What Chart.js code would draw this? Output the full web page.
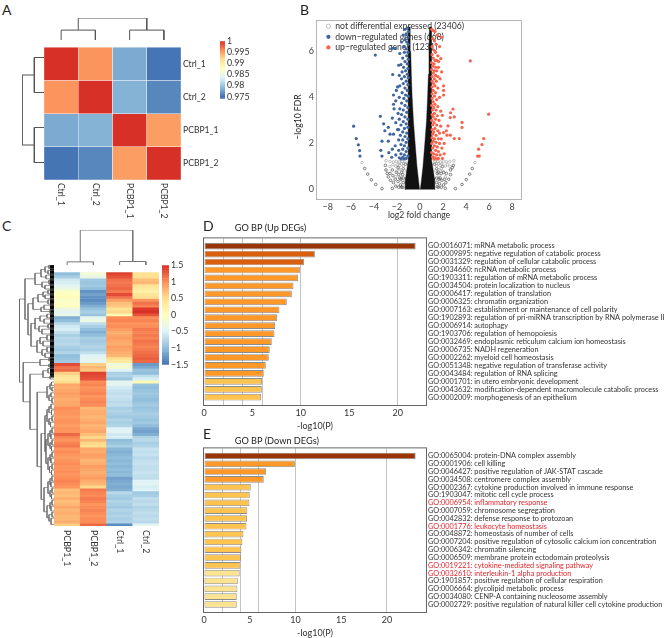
<!DOCTYPE html>
<html>
<head>
<meta charset="utf-8">
<script src="https://cdn.jsdelivr.net/npm/chart.js@4"></script>
<style>
  html, body { margin: 0; padding: 0; background: #fff; }
  #page { position: relative; width: 669px; height: 638px; overflow: hidden; font-family: Lato, sans-serif; color: #222; }
  canvas { position: absolute; }
  .note { position: absolute; white-space: nowrap; transform: translateY(-50%); }
</style>
</head>
<body>
<div id="page"></div>
<script>
// panel A: sample correlation
const corrSamples = ['Ctrl_1', 'Ctrl_2', 'PCBP1_1', 'PCBP1_2']
const corrCtrl1 = [1, 0.9955, 0.978, 0.975]
const corrCtrl2 = [0.9955, 1, 0.9785, 0.976]
const corrPcbp1 = [0.978, 0.9785, 1, 0.995]
const corrPcbp2 = [0.975, 0.976, 0.995, 1]
const corrTicks = [1, 0.995, 0.99, 0.985, 0.98, 0.975]
// dendrogram merges: position a, height a, position b, height b, merge height
const corrTreeTop = [[0.5, 0, 1.5, 0, 0.45], [2.5, 0, 3.5, 0, 0.45], [1, 0.45, 3, 0.45, 1]]
const corrTreeLeft = [[0.5, 0, 1.5, 0, 0.44], [2.5, 0, 3.5, 0, 0.44], [1, 0.44, 3, 0.44, 1]]

// panel B: volcano
const volcanoLegend = ['not differential expressed (23406)', 'down\u2212regulated genes (668)', 'up\u2212regulated genes (1231)']
const upGenes = [[4.37, 5.58], [5.96, 3.27], [3.65, 2.91], [3.65, 2.69], [2.86, 3.49], [2.66, 3.33], [2.98, 3.15], [2.63, 3.12], [1.94, 3.22], [2.43, 2.76], [2.29, 2.55], [2.05, 2.47], [2.34, 2.36], [2.63, 2.36], [2.98, 2.21], [3.41, 2.21], [5.53, 2.21], [5.38, 1.95], [5.09, 1.75], [5.0, 1.45], [5.15, 1.45],
  [1.02, 6.95], [1.15, 6.9], [1.3, 6.85], [1.5, 6.7], [1.85, 6.6], [1.1, 6.55], [1.25, 6.45], [1.4, 6.3], [1.05, 6.2], [1.7, 6.2], [1.2, 6.05], [1.35, 5.95], [1.05, 5.85], [1.55, 5.8], [1.8, 5.68], [1.15, 5.7], [1.3, 5.6], [1.45, 5.6], [1.62, 5.55], [1.0, 5.5], [1.22, 5.45], [1.1, 5.35], [1.35, 5.3], [1.6, 5.3], [1.02, 5.2], [1.25, 5.15], [1.45, 5.15], [1.88, 5.1], [1.15, 5.05], [1.35, 4.95], [1.05, 4.9], [1.55, 4.9], [1.25, 4.8], [1.75, 4.8], [1.05, 4.7], [1.42, 4.7], [1.18, 4.6], [1.3, 4.5], [2.05, 4.5], [1.05, 4.45], [1.55, 4.4], [2.05, 4.3], [1.15, 4.3], [1.35, 4.2], [1.05, 4.15], [2.05, 4.1], [1.25, 4.05], [1.7, 4.0], [1.05, 3.95], [1.45, 3.9], [1.15, 3.8], [1.3, 3.7], [1.02, 3.65], [1.55, 3.6], [1.2, 3.55], [1.08, 3.45], [1.4, 3.45], [1.8, 3.4], [1.25, 3.3], [1.05, 3.25], [1.5, 3.2], [1.15, 3.15], [1.35, 3.05], [1.02, 3.0], [1.65, 3.0], [1.22, 2.9], [1.1, 2.8], [1.45, 2.8], [1.8, 2.75], [1.3, 2.65], [1.05, 2.6], [1.55, 2.55], [1.2, 2.5], [1.7, 2.45], [1.1, 2.4], [1.4, 2.35], [1.05, 2.25], [1.25, 2.2], [1.6, 2.2], [1.85, 2.2], [1.15, 2.1], [1.4, 2.05], [1.03, 2.0], [1.7, 2.0], [2.1, 2.0], [1.25, 1.9], [1.5, 1.85], [1.1, 1.8], [1.9, 1.8], [1.35, 1.7], [1.6, 1.65], [1.02, 1.6], [1.2, 1.55], [2.1, 1.55], [1.45, 1.5], [1.75, 1.5], [1.1, 1.42], [1.3, 1.38], [1.6, 1.35], [1.95, 1.35], [1.2, 1.32], [1.45, 1.32]]
const downGenes = [[-3.88, 5.83], [-5.76, 2.75], [-5.53, 2.21], [-5.35, 1.94], [-5.24, 1.69], [-5.21, 1.45], [-3.44, 3.18], [-2.37, 4.99], [-2.43, 6.12], [-2.15, 6.12], [-2.75, 2.7], [-3.15, 2.85], [-3.05, 2.55], [-3.3, 2.1], [-3.4, 1.7], [-3.3, 1.45], [-2.75, 2.1], [-2.7, 1.6], [-2.6, 2.4], [-2.4, 3.1], [-2.25, 3.5], [-2.1, 2.9], [-2.3, 2.4], [-2.15, 1.9], [-2.4, 1.75], [-2.45, 1.4], [-2.1, 1.5], [-1.95, 2.6], [-1.9, 3.3],
  [-1.1, 7.0], [-1.3, 6.95], [-1.0, 6.85], [-1.2, 6.75], [-1.45, 6.7], [-1.05, 6.6], [-1.3, 6.5], [-1.15, 6.4], [-1.6, 6.4], [-1.02, 6.3], [-1.4, 6.2], [-1.2, 6.1], [-1.05, 5.95], [-1.35, 5.95], [-1.75, 5.9], [-1.15, 5.8], [-1.5, 5.7], [-1.02, 5.65], [-1.3, 5.55], [-1.1, 5.45], [-1.65, 5.42], [-1.85, 5.39], [-1.42, 5.3], [-1.05, 5.25], [-1.25, 5.15], [-1.55, 5.1], [-1.1, 5.0], [-1.8, 4.95], [-1.35, 4.9], [-1.02, 4.85], [-1.6, 4.8], [-1.2, 4.7], [-1.45, 4.6], [-1.05, 4.55], [-1.75, 4.5], [-1.95, 4.45], [-1.3, 4.4], [-2.05, 4.3], [-1.1, 4.3], [-1.55, 4.2], [-1.25, 4.1], [-2.3, 4.1], [-1.02, 4.05], [-1.8, 4.0], [-1.4, 3.95], [-2.1, 3.85], [-1.15, 3.85], [-1.6, 3.75], [-2.3, 3.7], [-1.3, 3.65], [-1.05, 3.55], [-1.75, 3.5], [-1.45, 3.45], [-1.15, 3.35], [-1.6, 3.25], [-1.3, 3.15], [-1.05, 3.05], [-1.8, 3.05], [-1.45, 2.95], [-1.2, 2.85], [-1.65, 2.8], [-1.05, 2.7], [-1.35, 2.65], [-1.85, 2.6], [-1.5, 2.5], [-1.15, 2.45], [-1.7, 2.35], [-1.3, 2.3], [-1.05, 2.2], [-1.5, 2.15], [-1.85, 2.15], [-1.2, 2.05], [-1.65, 1.95], [-1.35, 1.9], [-1.05, 1.8], [-1.5, 1.75], [-1.85, 1.7], [-1.2, 1.65], [-1.65, 1.55], [-1.35, 1.5], [-1.05, 1.45], [-1.5, 1.4], [-1.8, 1.38], [-1.2, 1.35], [-1.4, 1.33], [-1.65, 1.32]]
const quietGenes = [[-5.03, 1.17], [4.77, 1.17], [-2.95, 1.25], [-2.6, 1.22], [-2.3, 1.2], [-2.05, 1.22], [-1.8, 1.2], [-1.55, 1.22], [-1.3, 1.2], [2.95, 1.25], [2.6, 1.22], [2.3, 1.2], [2.05, 1.22], [1.8, 1.2], [1.55, 1.22], [1.3, 1.2], [-2.6, 1.0], [-2.1, 1.02], [-1.75, 1.05], [-1.45, 1.03], [2.6, 1.0], [2.2, 1.02], [1.75, 1.05], [1.45, 1.03], [-2.0, 0.8], [-1.65, 0.85], [-1.35, 0.82], [1.95, 0.8], [1.65, 0.85], [1.35, 0.82], [-2.1, 0.55], [-1.7, 0.6], [1.65, 0.6], [2.2, 0.55], [-1.55, 0.4], [1.55, 0.4], [-1.9, 1.1], [-1.6, 1.12], [-1.4, 1.12], [1.9, 1.1], [1.6, 1.12], [1.4, 1.12], [-2.35, 1.08], [2.4, 1.08], [-1.85, 0.92], [1.85, 0.92]]
const quietDarkGenes = [[-4.8, 0.91], [-4.54, 0.67], [-4.22, 0.42], [-3.85, 0.22], [-3.3, 0.04], [3.07, 0.04], [3.65, 0.22], [4.02, 0.43], [4.31, 0.67], [4.54, 0.91], [-3.0, 1.05], [-2.95, 0.85], [-2.85, 0.7], [-2.75, 0.55], [-2.55, 0.4], [-2.6, 0.7], [-2.4, 0.85], [-2.35, 0.6], [-2.3, 0.3], [-2.4, 0.05], [-2.1, 0.15], [-1.9, 0.35], [-1.85, 0.65], [-1.9, 0.95], [-1.7, 0.2], [-1.5, 0.1], [-1.5, 0.65], [-1.25, 1.1], [2.65, 0.85], [2.65, 0.65], [2.5, 0.45], [2.3, 0.7], [2.25, 0.3], [2.2, 0.05], [2.05, 0.2], [1.9, 0.4], [1.85, 0.7], [1.95, 1.0], [1.7, 0.25], [1.5, 0.12], [1.5, 0.7], [1.25, 1.1], [2.9, 1.05], [2.8, 0.95],
  [-1.45, 0.9], [-1.6, 0.75], [-1.45, 0.5], [-1.65, 0.45], [-1.45, 0.3], [-1.6, 0.1], [-1.85, 0.1], [-2.15, 0.45], [-2.05, 0.75], [-1.75, 0.5], [1.45, 0.9], [1.6, 0.75], [1.45, 0.5], [1.65, 0.45], [1.45, 0.3], [1.6, 0.1], [1.85, 0.1], [2.15, 0.45], [2.05, 0.75], [1.75, 0.5]]
const leftBand = [[-0.03, 0], [-0.15, 0.5], [-0.26, 1], [-0.42, 2], [-0.57, 3], [-0.68, 4], [-0.75, 5], [-0.8, 6], [-0.85, 7.05], [-1.02, 7.05], [-1.0, 6], [-1.0, 5], [-1.0, 4], [-1.0, 3], [-1.02, 2], [-1.02, 1.3], [-1.1, 1], [-1.25, 0.5], [-1.3, 0.1], [-1.25, 0]]
const rightBand = [[0.03, 0], [0.15, 0.5], [0.26, 1], [0.42, 2], [0.57, 3], [0.66, 4], [0.73, 5], [0.78, 6], [0.82, 7.05], [0.98, 7.05], [0.98, 6], [0.98, 5], [1.0, 4], [1.0, 3], [1.0, 2], [1.0, 1.3], [1.1, 1], [1.25, 0.5], [1.3, 0.1], [1.25, 0]]

// panel C: DEG heatmap, one value per row from top to bottom
const degSamples = ['PCBP1_1', 'PCBP1_2', 'Ctrl_1', 'Ctrl_2']
const degPcbp1 = [-1.0, -0.85, -0.6, -0.55, -0.45, -0.3, -0.1, 0, 0.05, -0.1, -0.05, 0, -0.3, -0.45, -0.35, -1.1, -1.0, -0.75, -0.6, -0.55, -0.7, -0.85, -0.75, -0.8, -0.75, -0.85, -0.9, -0.8, -1.0, -0.95, -0.9, 1.35, 1.15, 1.2, 0.6, 0.45, 0.35, 0.5, 0.85, 0.8, 0.85, 0.9, 0.85, 0.8, 0.85, 0.85, 1.0, 0.95, 0.95, 0.9, 0.95, 0.95, 0.9, 0.95, 0.95, 1.2, 1.05, 0.95, 1.05, 1.1, 0.95, 1.0, 0.95, 0.9, 0.95, 1.0, 0.95, 0.95, 1.0, 0.95, 1.0, 1.05, 1.0, 0.95, 0.7, 0.75, 0.7, 0.8, 0.7, 0.75, 0.85, 0.75, 0.8, 0.75, 0.75, 0.8, 0.6]
const degPcbp2 = [-0.2, -0.35, -0.9, -0.95, -0.9, -1.0, -1.3, -1.2, -1.3, -1.35, -1.25, -1.1, -0.95, -0.85, -0.95, -0.4, -0.3, -0.7, -0.85, -1.0, -1.1, -1.0, -0.85, -0.9, -0.85, -0.8, -0.85, -0.7, -0.5, -0.4, -0.45, 0.6, 0.75, 0.65, 1.4, 1.35, 1.3, 1.0, 1.05, 0.95, 1.0, 1.05, 0.95, 1.0, 1.05, 1.0, 0.75, 0.8, 0.8, 0.75, 0.8, 0.85, 0.75, 0.8, 0.85, 0.7, 0.55, 0.75, 0.55, 0.5, 0.85, 0.8, 0.9, 0.85, 0.75, 0.8, 0.9, 0.85, 0.8, 0.85, 0.9, 0.8, 0.75, 0.55, 1.1, 1.05, 1.0, 1.1, 1.05, 0.95, 1.0, 1.05, 1.0, 0.95, 1.0, 1.0, 1.2]
const degCtrl1 = [1.4, 1.3, 1.15, 1.1, 1.15, 1.2, 1.1, 1.35, 1.15, 0.9, 0.7, 0.65, 0.45, 0.55, 0.1, 1.0, 1.05, 0.95, 1.0, 0.9, 0.8, 0.85, 0.9, 0.85, 0.8, 0.9, 0.85, 0.8, 0.75, 0.5, 0.35, -0.25, -0.15, -0.5, -0.85, -0.8, -0.95, -0.4, -0.45, -0.6, -0.65, -0.7, -0.65, -0.7, -0.75, -0.7, -0.85, -0.8, -0.85, -0.9, -0.8, -0.85, -0.8, -0.5, -0.45, -0.6, -0.55, -1.0, -0.95, -0.85, -1.05, -1.1, -1.05, -1.0, -1.05, -1.0, -1.05, -1.0, -1.05, -1.0, -1.2, -1.15, -1.1, -1.15, -1.1, -0.75, -0.85, -0.9, -0.8, -0.85, -0.9, -0.8, -0.85, -0.8, -0.85, -0.8, -1.35]
const degCtrl2 = [0.45, 0.5, 0.7, 0.75, 0.45, 0.35, 0.25, 0.4, 0.5, 0.95, 1.15, 1.05, 1.45, 1.5, 1.3, 1.0, 1.05, 0.95, 1.0, 1.1, 1.05, 1.1, 1.05, 1.15, 1.1, 1.05, 1.1, 1.15, 1.2, 1.25, 1.2, -1.25, -1.15, -0.95, -1.0, -0.7, -0.55, 0.1, -0.95, -1.0, -0.95, -0.9, -0.95, -1.0, -0.95, -0.9, -0.95, -0.9, -0.85, -0.9, -0.95, -0.9, -1.0, -1.15, -1.2, -1.1, -0.8, -0.75, -0.85, -0.8, -0.65, -0.7, -0.65, -0.75, -0.7, -0.65, -0.7, -0.7, -0.65, -0.7, -0.7, -0.5, -0.45, -0.55, -0.5, -0.9, -0.85, -0.7, -0.75, -0.7, -0.8, -0.75, -0.7, -0.75, -0.7, -0.75, -0.45]
const degTicks = [1.5, 1, 0.5, 0, -0.5, -1, -1.5]
const degTreeTop = [[0.5, 0, 1.5, 0, 0.09], [2.5, 0, 3.5, 0, 0.1], [1, 0.09, 3, 0.1, 1]]
const degTreeLeft = [
  [0, 0, 1.2, 0, 5], [1.8, 0, 3, 0, 6], [3.4, 0, 4.6, 0, 8], [5, 0, 6.4, 0, 5], [6.8, 0, 8, 0, 9], [8.4, 0, 9.6, 0, 6], [10, 0, 11.2, 0, 9], [11.6, 0, 13, 0, 6], [13.4, 0, 14.8, 0, 10], [15, 0, 16, 0, 4], [16.4, 0, 17.6, 0, 7], [18, 0, 19.4, 0, 10], [19.8, 0, 21, 0, 6], [21.4, 0, 23, 0, 12], [23.4, 0, 25, 0, 7], [25.4, 0, 27, 0, 11], [27.4, 0, 29, 0, 7], [29.4, 0, 30.8, 0, 9],
  [0.6, 5, 2.4, 6, 9], [1.5, 9, 4, 8, 13], [5.7, 5, 7.4, 9, 12], [2.75, 13, 6.5, 12, 19], [9, 6, 10.6, 9, 11], [9.8, 11, 12.3, 6, 16], [14.1, 10, 15.5, 4, 13], [11, 16, 14.8, 13, 21], [17, 7, 18.7, 10, 14], [20.4, 6, 22.2, 12, 15], [17.8, 14, 21.3, 15, 19], [24.2, 7, 26.2, 11, 14], [28.2, 7, 30.1, 9, 12], [25.2, 14, 29.1, 12, 17], [19.5, 19, 27.1, 17, 23], [12.9, 21, 23.3, 23, 26], [4.6, 19, 18.1, 26, 29],
  [31, 0, 32, 0, 5], [33, 0, 34, 0, 5], [31.5, 5, 33.5, 5, 14], [34.5, 0, 36, 0, 6], [37, 0, 38, 0, 4], [35.25, 6, 37.5, 4, 11],
  [39, 0, 40.2, 0, 2.5], [40.8, 0, 42, 0, 2], [42.6, 0, 44, 0, 3], [44.4, 0, 46, 0, 2], [46.4, 0, 48, 0, 3], [48.4, 0, 50, 0, 2.5], [50.4, 0, 52, 0, 2], [52.4, 0, 54, 0, 3.5], [54.4, 0, 56, 0, 2], [56.4, 0, 58, 0, 3], [58.4, 0, 60, 0, 2], [60.4, 0, 62, 0, 2.5], [62.4, 0, 64, 0, 2], [64.4, 0, 66, 0, 3], [66.4, 0, 68, 0, 2], [68.4, 0, 70, 0, 2.5], [70.4, 0, 72, 0, 2], [72.4, 0, 74, 0, 3], [74.4, 0, 76, 0, 2], [76.4, 0, 78, 0, 2.5], [78.4, 0, 80, 0, 2], [80.4, 0, 82, 0, 3], [82.4, 0, 84, 0, 2], [84.4, 0, 86.5, 0, 3],
  [39.6, 2.5, 41.4, 2, 4], [43.3, 3, 45.2, 2, 5], [40.5, 4, 44.25, 5, 7], [47.2, 3, 49.2, 2.5, 5], [51.2, 2, 53.2, 3.5, 5], [48.2, 5, 52.2, 5, 7], [55.2, 2, 57.2, 3, 4], [59.2, 2, 61.2, 2.5, 4], [56.2, 4, 60.2, 4, 6], [63.2, 2, 65.2, 3, 4], [67.2, 2, 69.2, 2.5, 4.5], [64.2, 4, 68.2, 4.5, 6], [71.2, 2, 73.2, 3, 4], [75.2, 2, 77.2, 2.5, 4], [72.2, 4, 76.2, 4, 6], [79.2, 2, 81.2, 3, 4], [83.2, 2, 85.4, 3, 5], [80.2, 4, 84.3, 5, 7],
  [58.2, 6, 66.2, 6, 8], [50.2, 7, 62.2, 8, 9], [74.2, 6, 82.25, 7, 10], [56.2, 9, 78.2, 10, 12.8], [42.4, 7, 67.2, 12.8, 16.8], [36.4, 11, 54.8, 16.8, 24], [32.5, 14, 45.6, 24, 30.8], [11.35, 29, 39.05, 30.8, 34.5]]
const degLeafBand = [[2, 0], [2, 37.5]]

// panel D: GO terms of the up DEGs
const upTerms = ['GO:0016071: mRNA metabolic process', 'GO:0009895: negative regulation of catabolic process', 'GO:0031329: regulation of cellular catabolic process', 'GO:0034660: ncRNA metabolic process', 'GO:1903311: regulation of mRNA metabolic process', 'GO:0034504: protein localization to nucleus', 'GO:0006417: regulation of translation', 'GO:0006325: chromatin organization', 'GO:0007163: establishment or maintenance of cell polarity', 'GO:1902893: regulation of pri-miRNA transcription by RNA polymerase II', 'GO:0006914: autophagy', 'GO:1903706: regulation of hemopoiesis', 'GO:0032469: endoplasmic reticulum calcium ion homeostasis', 'GO:0006735: NADH regeneration', 'GO:0002262: myeloid cell homeostasis', 'GO:0051348: negative regulation of transferase activity', 'GO:0043484: regulation of RNA splicing', 'GO:0001701: in utero embryonic development', 'GO:0043632: modification-dependent macromolecule catabolic process', 'GO:0002009: morphogenesis of an epithelium']
const upLogP = [21.86, 11.45, 10.34, 9.9, 9.72, 9.24, 9.07, 8.55, 7.79, 7.55, 7.34, 7.28, 7.0, 6.79, 6.69, 6.38, 6.17, 6.0, 5.97, 5.9]
const upColors = ['#993404', '#d95f0e', '#d95f0e', '#fe9929', '#fe9929', '#fe9929', '#fe9929', '#fe9929', '#fe9929', '#fe9929', '#fe9929', '#fe9929', '#fe9929', '#fe9929', '#fe9929', '#fe9929', '#fe9929', '#fec44f', '#fec44f', '#fec44f']

// panel E: GO terms of the down DEGs
const downTerms = ['GO:0065004: protein-DNA complex assembly', 'GO:0001906: cell killing', 'GO:0046427: positive regulation of JAK-STAT cascade', 'GO:0034508: centromere complex assembly', 'GO:0002367: cytokine production involved in immune response', 'GO:1903047: mitotic cell cycle process', 'GO:0006954: inflammatory response', 'GO:0007059: chromosome segregation', 'GO:0042832: defense response to protozoan', 'GO:0001776: leukocyte homeostasis', 'GO:0048872: homeostasis of number of cells', 'GO:0007204: positive regulation of cytosolic calcium ion concentration', 'GO:0006342: chromatin silencing', 'GO:0006509: membrane protein ectodomain proteolysis', 'GO:0019221: cytokine-mediated signaling pathway', 'GO:0032610: interleukin-1 alpha production', 'GO:1901857: positive regulation of cellular respiration', 'GO:0006664: glycolipid metabolic process', 'GO:0034080: CENP-A containing nucleosome assembly', 'GO:0002729: positive regulation of natural killer cell cytokine production']
const downLogP = [23.14, 9.93, 6.79, 6.53, 5.11, 5.0, 4.96, 4.74, 4.71, 4.64, 4.31, 4.2, 4.09, 4.05, 3.98, 3.9, 3.69, 3.65, 3.58, 3.58]
const downColors = ['#993404', '#fe9929', '#fe9929', '#fe9929', '#fec44f', '#fec44f', '#fec44f', '#fec44f', '#fec44f', '#fec44f', '#fec44f', '#fec44f', '#fec44f', '#fec44f', '#fec44f', '#fee391', '#fee391', '#fee391', '#fee391', '#fee391']
const downRed = [6, 9, 14, 15]
const goLabelTicks = [0, 5, 10, 15, 20]
const goGridLines = [2, 4, 6, 10, 20]

const FONT = 'Lato, sans-serif'
Chart.defaults.animation = false
Chart.defaults.responsive = false
Chart.defaults.devicePixelRatio = 1
Chart.defaults.font.family = FONT
Chart.defaults.color = '#333'
Chart.defaults.plugins.legend.display = false
Chart.defaults.plugins.tooltip.enabled = false

const page = document.getElementById('page')

function addChart(left, top, width, height, config) {
  const canvas = document.createElement('canvas')
  canvas.width = width
  canvas.height = height
  canvas.style.left = left + 'px'
  canvas.style.top = top + 'px'
  page.appendChild(canvas)
  return new Chart(canvas, config)
}

function addNote(text, x, y, size, rotate) {
  const el = document.createElement('div')
  el.className = 'note'
  el.textContent = text
  el.style.left = x + 'px'
  el.style.top = y + 'px'
  el.style.fontSize = size + 'px'
  if (rotate) el.style.transform = 'translate(-50%,-50%) rotate(-90deg)'
  page.appendChild(el)
}

// RdYlBu, the pheatmap default
const ramp = [[69, 117, 180], [145, 191, 219], [224, 243, 248], [255, 255, 191], [254, 224, 144], [252, 141, 89], [215, 48, 39]]
function heatColor(v, lo, hi) {
  const t = Math.min(Math.max((v - lo) / (hi - lo), 0), 1) * (ramp.length - 1)
  const i = Math.min(Math.floor(t), ramp.length - 2)
  const c = ramp[i].map((a, k) => Math.round(a + (ramp[i + 1][k] - a) * (t - i)))
  return `rgb(${c[0]},${c[1]},${c[2]})`
}

// Chart.js only rotates x labels upward, these read downward
function downLabels(labels, size, gap) {
  return {
    id: 'downLabels',
    afterDraw(chart) {
      const { ctx, chartArea, scales } = chart
      ctx.save()
      ctx.font = `${size}px ${FONT}`
      ctx.fillStyle = '#333'
      ctx.textBaseline = 'middle'
      labels.forEach((label, i) => {
        ctx.save()
        ctx.translate(scales.x.getPixelForTick(i), chartArea.bottom + gap)
        ctx.rotate(Math.PI / 2)
        ctx.fillText(label, 0, 0)
        ctx.restore()
      })
      ctx.restore()
    }
  }
}

function boxPlugin(color) {
  return {
    id: 'box',
    afterDraw(chart) {
      const { ctx, chartArea: a } = chart
      ctx.save()
      ctx.strokeStyle = color
      ctx.lineWidth = 1
      ctx.strokeRect(a.left - 0.5, a.top - 0.5, a.right - a.left + 1, a.bottom - a.top + 1)
      ctx.restore()
    }
  }
}

const fixSize = (px) => (s) => {
  if (s.isHorizontal()) s.height = px
  else s.width = px
}

// heatmap: a stacked bar per column, one dataset per row
function heatmap(box, pad, labelWidth, columns, rowLabels, colors, border, fontSize, labelGap) {
  const rows = colors[0].length
  const rowValues = rowLabels.map((_, i) => (i + 0.5) * rows / rowLabels.length)
  addChart(box[0], box[1], box[2], box[3], {
    type: 'bar',
    data: {
      labels: columns,
      datasets: Array.from({ length: rows }, (_, r) => ({
        data: columns.map(() => 1),
        backgroundColor: columns.map((_, c) => colors[c][r]),
        borderColor: border || undefined,
        borderWidth: border ? 0.5 : 0,
        borderSkipped: false,
        barPercentage: 1,
        categoryPercentage: 1
      }))
    },
    options: {
      layout: { padding: pad },
      scales: {
        x: { stacked: true, grid: { display: false }, border: { display: false }, ticks: { display: false }, afterFit: fixSize(0) },
        y: {
          stacked: true, reverse: true, min: 0, max: rows, position: 'right',
          grid: { display: false, drawTicks: false }, border: { display: false },
          afterBuildTicks: (s) => { s.ticks = rowValues.map((value) => ({ value })) },
          ticks: {
            autoSkip: false, padding: 2, color: '#333', font: { size: fontSize },
            callback: (v) => rowLabels[rowValues.indexOf(v)] || ''
          },
          afterFit: fixSize(labelWidth)
        }
      }
    },
    plugins: [downLabels(columns, fontSize, labelGap)]
  })
}

function colorBar(box, pad, labelWidth, lo, hi, ticks, fontSize, barMin) {
  const steps = []
  for (let i = 0; i < 60; i++) {
    const a = barMin + (hi - barMin) * i / 60
    const b = barMin + (hi - barMin) * (i + 1) / 60
    steps.push({ data: [[a, b]], backgroundColor: heatColor((a + b) / 2, lo, hi), barPercentage: 1, categoryPercentage: 1, grouped: false })
  }
  addChart(box[0], box[1], box[2], box[3], {
    type: 'bar',
    data: { labels: [''], datasets: steps },
    options: {
      layout: { padding: pad },
      scales: {
        x: { display: false },
        y: {
          position: 'right', min: barMin, max: hi,
          grid: { display: false, drawTicks: false }, border: { display: false },
          afterBuildTicks: (s) => { s.ticks = ticks.map((value) => ({ value })) },
          ticks: {
            autoSkip: false, padding: 2, color: '#333', font: { size: fontSize },
            callback: (v) => String(v).replace('-', '\u2212')
          },
          afterFit: fixSize(labelWidth)
        }
      }
    }
  })
}

// expand dendrogram merges into line points, null breaks the line
function treePoints(merges, leftward) {
  const pts = []
  const add = (pos, h) => pts.push(leftward ? { x: h, y: pos } : { x: pos, y: h })
  merges.forEach(([a, ha, b, hb, h]) => {
    add(a, ha)
    add(a, h)
    add(b, h)
    add(b, hb)
    pts.push({ x: null, y: null })
  })
  return pts
}

function tree(box, merges, leftward, span, maxH, color, width, extra) {
  const datasets = [{ data: treePoints(merges, leftward), showLine: true, pointRadius: 0, borderColor: color, borderWidth: width, clip: false }]
  if (extra) datasets.push(extra)
  addChart(box[0], box[1], box[2], box[3], {
    type: 'scatter',
    data: { datasets },
    options: {
      scales: leftward
        ? { x: { min: 0, max: maxH, reverse: true, display: false }, y: { min: 0, max: span, reverse: true, display: false } }
        : { x: { min: 0, max: span, display: false }, y: { min: 0, max: maxH, display: false } }
    }
  })
}

function goChart(box, pad, terms, values, colors, xMax, redRows) {
  addChart(box[0], box[1], box[2], box[3], {
    type: 'bar',
    data: {
      datasets: [{
        data: values.map((x, y) => ({ x, y })),
        backgroundColor: colors,
        borderColor: '#8c8c8c',
        borderWidth: 0.9,
        borderSkipped: false,
        barPercentage: 0.84,
        categoryPercentage: 1
      }]
    },
    options: {
      indexAxis: 'y',
      layout: { padding: pad },
      scales: {
        x: {
          type: 'linear', min: 0, max: xMax,
          afterBuildTicks: (s) => {
            s.ticks = [...new Set([...goLabelTicks, ...goGridLines])].sort((a, b) => a - b).map((value) => ({ value }))
          },
          grid: {
            drawTicks: false,
            color: (ctx) => (goGridLines.includes(ctx.tick && ctx.tick.value) ? '#c4c4c4' : 'transparent')
          },
          border: { display: false },
          ticks: {
            autoSkip: false, maxRotation: 0, padding: 3, color: '#333', font: { size: 9 },
            callback: (v) => (goLabelTicks.includes(v) ? v : '')
          },
          title: { display: true, text: '-log10(P)', color: '#333', font: { size: 9 }, padding: { top: 0, bottom: 0 } },
          afterFit: fixSize(26)
        },
        y: {
          type: 'linear', position: 'right', reverse: true, offset: false, min: -0.97, max: 19.97,
          grid: { display: false, drawTicks: false }, border: { display: false },
          afterBuildTicks: (s) => { s.ticks = terms.map((_, value) => ({ value })) },
          ticks: {
            autoSkip: false, padding: 2, font: { size: 7.3 },
            color: (ctx) => (redRows.includes(ctx.tick.value) ? '#e3242b' : '#333'),
            callback: (v) => terms[v]
          },
          afterFit: fixSize(243)
        }
      }
    },
    plugins: [boxPlugin('#666')]
  })
}

// A
const corrColors = [corrCtrl1, corrCtrl2, corrPcbp1, corrPcbp2].map((col) => col.map((v) => heatColor(v, 0.975, 1)))
tree([44, 18, 137, 22], corrTreeTop, false, 4, 1, '#555', 1)
tree([22, 40, 22, 140], corrTreeLeft, true, 4, 1, '#555', 1)
heatmap([44, 40, 190, 185], { left: 0, top: 0, right: 0, bottom: 45 }, 53, corrSamples, corrSamples, corrColors, 'rgba(255,255,255,0.8)', 8.6, 3)
colorBar([216, 34, 40, 72], { left: 4, top: 6, right: 0, bottom: 6 }, 31, 0.975, 1, corrTicks, 8.8, 0.9741)

// B
const ringStyle = (color) => ({ pointRadius: 1.3, pointBorderWidth: 0.6, pointBackgroundColor: 'rgba(255,255,255,0)', pointBorderColor: color, backgroundColor: color, borderColor: color, showLine: false })
const dotStyle = (color) => ({ pointRadius: 1.6, pointBorderWidth: 0, pointBackgroundColor: color, backgroundColor: color, borderColor: color, showLine: false })
const bandStyle = { label: 'band', showLine: true, fill: 'shape', pointRadius: 0, borderColor: '#111', backgroundColor: '#111', borderWidth: 0.4 }
const toPoints = (list) => list.map(([x, y]) => ({ x, y }))
// the built-in legend hugs the corner of the chart area, nudge it to where the figure has it
const legendNudge = {
  id: 'legendNudge',
  beforeDraw(chart) {
    chart.legend.left = chart.chartArea.left + 7
    chart.legend.top = chart.chartArea.top - 1
  }
}
addChart(285, 14, 245, 208, {
  type: 'scatter',
  data: {
    datasets: [
      { label: volcanoLegend[0], data: toPoints(quietGenes), ...ringStyle('#9a9a9a') },
      { label: volcanoLegend[1], data: toPoints(downGenes), ...dotStyle('#3f659f') },
      { label: volcanoLegend[2], data: toPoints(upGenes), ...dotStyle('#f8634b') },
      { label: 'quiet', data: toPoints(quietDarkGenes), ...ringStyle('#333') },
      { data: toPoints(leftBand), ...bandStyle },
      { data: toPoints(rightBand), ...bandStyle }
    ]
  },
  options: {
    layout: { padding: { left: 0, top: 7, right: 9, bottom: 0 } },
    plugins: {
      legend: {
        display: true, position: 'chartArea', align: 'start',
        labels: {
          filter: (item) => volcanoLegend.includes(item.text),
          usePointStyle: true, boxWidth: 5, boxHeight: 3, padding: 1.9, color: '#333', font: { size: 8.7 }
        }
      }
    },
    scales: {
      x: {
        min: -8.94, max: 8.77,
        afterBuildTicks: (s) => { s.ticks = [-8, -6, -4, -2, 0, 2, 4, 6, 8].map((value) => ({ value })) },
        grid: { display: false, tickLength: 2, drawOnChartArea: false },
        border: { display: false },
        ticks: { padding: 1, color: '#444', font: { size: 9 }, callback: (v) => String(v).replace('-', '\u2212') },
        title: { display: true, text: 'log2 fold change', color: '#333', font: { size: 8.6 }, padding: { top: 0, bottom: 2 } },
        afterFit: fixSize(23)
      },
      y: {
        min: -0.41, max: 7.31,
        afterBuildTicks: (s) => { s.ticks = [0, 2, 4, 6].map((value) => ({ value })) },
        grid: { display: false, tickLength: 2, drawOnChartArea: false },
        border: { display: false },
        ticks: { padding: 1, color: '#444', font: { size: 9 } },
        afterFit: fixSize(32)
      }
    }
  },
  plugins: [boxPlugin('#b5b5b5'), legendNudge]
})
addNote('\u2212log10 FDR', 298, 117, 8.6, true)

// C
const degColors = [degPcbp1, degPcbp2, degCtrl1, degCtrl2].map((col) => col.map((v) => heatColor(v, -1.5, 1.5)))
tree([54, 230, 105, 35], degTreeTop, false, 4, 1, '#777', 1)
tree([18, 265, 36, 261], degTreeLeft, true, 87, 36, '#666', 0.7, {
  data: toPoints(degLeafBand), showLine: true, pointRadius: 0, borderColor: '#000', borderWidth: 4
})
heatmap([54, 265, 105, 310], { left: 0, top: 0, right: 0, bottom: 49 }, 0, degSamples, [''], degColors, null, 8.8, 4)
colorBar([158, 258, 50, 114], { left: 4, top: 7, right: 0, bottom: 7 }, 39, -1.5, 1.5, degTicks, 8.8, -1.5)

// D, E
goChart([196, 232, 473, 199], { left: 8, top: 5, right: 0, bottom: 0 }, upTerms, upLogP, upColors, 22.93, [])
goChart([196, 442, 473, 196], { left: 8, top: 5, right: 0, bottom: 0 }, downTerms, downLogP, downColors, 24.27, downRed)

addNote('A', 2, 9, 14)
addNote('B', 300, 9, 14)
addNote('C', 2, 225, 14)
addNote('D', 203, 225, 14)
addNote('E', 203, 433, 14)
addNote('GO BP (Up DEGs)', 234.7, 227, 9.2)
addNote('GO BP (Down DEGs)', 234.7, 440, 9.2)
</script>
</body>
</html>
